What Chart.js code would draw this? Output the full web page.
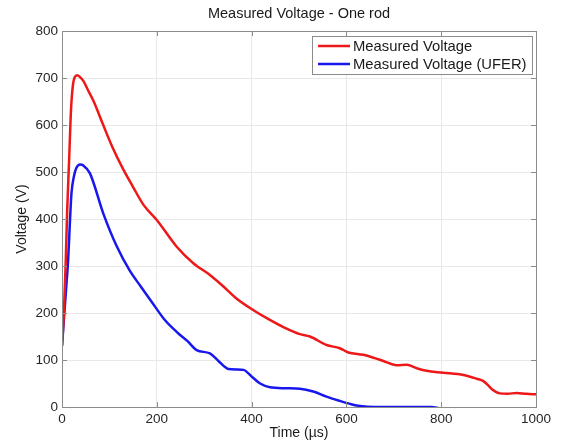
<!DOCTYPE html>
<html>
<head>
<meta charset="utf-8">
<script src="https://cdn.jsdelivr.net/npm/chart.js@4"></script>
<style>
  html, body { margin: 0; padding: 0; background: #fff; }
  #wrap { width: 561px; height: 442px; position: relative; }
</style>
</head>
<body>
<div id="wrap"><canvas id="c" width="561" height="442"></canvas></div>
<script>
// Time samples (µs) and measured voltages (V)
const redTime = [0, 4, 8, 11, 15, 19, 23, 27, 32, 38, 45, 55, 66, 87, 105, 129, 150, 172, 200, 242, 277, 312, 340, 368, 404, 432, 467, 502, 523, 558, 586, 604, 636, 660, 678, 706, 727, 750, 769, 804, 847, 875, 889, 900, 907, 924, 940, 959, 980, 1000];
const redVolt = [130, 200, 313, 420, 525, 632, 685, 702, 706, 702, 694, 674, 652, 600, 556, 506, 468, 430, 398, 341, 306, 281, 257, 231, 206, 189, 170, 155, 150, 132, 125, 116, 111, 104, 98, 89, 90, 82, 77, 73, 68, 60, 55, 45, 38, 29, 28, 30, 28, 27];

const blueTime = [0, 5, 10, 13, 17, 20, 25, 30, 38, 45, 59, 87, 115, 143, 165, 189, 217, 245, 265, 284, 312, 330, 351, 370, 383, 400, 418, 439, 470, 502, 530, 558, 586, 610, 629, 660, 700, 780, 800, 1000];
const blueVolt = [130, 200, 270, 313, 400, 455, 490, 508, 516, 514, 497, 412, 343, 290, 258, 224, 185, 157, 140, 121, 114, 98, 81, 80, 79, 65, 50, 42, 40, 39, 33, 22, 13, 6, 2, 0, 0, 0, -3, -3];

const xTicks = [0, 200, 400, 600, 800, 1000];
const yTicks = [0, 100, 200, 300, 400, 500, 600, 700, 800];

const seriesNames = ['Measured Voltage', 'Measured Voltage (UFER)'];
const seriesColors = ['rgb(238,24,24)', 'rgb(24,24,238)'];

const FONT = '"Liberation Sans", Arial, sans-serif';

function toPoints(xs, ys) { return xs.map((x, i) => ({ x: x, y: ys[i] })); }

// Axes box, inward tick marks, title and boxed legend
const frame = {
  id: 'frame',
  afterDatasetsDraw(chart) {
    const { ctx, chartArea: a, scales } = chart;
    ctx.save();
    ctx.strokeStyle = '#8c8c8c';
    ctx.lineWidth = 1;
    ctx.strokeRect(Math.round(a.left) + 0.5, Math.round(a.top) + 0.5, Math.round(a.right - a.left), Math.round(a.bottom - a.top));
    const tl = 5;
    ctx.beginPath();
    xTicks.forEach(v => {
      const px = Math.round(scales.x.getPixelForValue(v)) + 0.5;
      ctx.moveTo(px, a.bottom); ctx.lineTo(px, a.bottom - tl);
      ctx.moveTo(px, a.top); ctx.lineTo(px, a.top + tl);
    });
    yTicks.forEach(v => {
      const py = Math.round(scales.y.getPixelForValue(v)) + 0.5;
      ctx.moveTo(a.left, py); ctx.lineTo(a.left + tl, py);
      ctx.moveTo(a.right, py); ctx.lineTo(a.right - tl, py);
    });
    ctx.stroke();

    // title
    ctx.fillStyle = '#1a1a1a';
    ctx.font = '14.5px ' + FONT;
    ctx.textAlign = 'center';
    ctx.textBaseline = 'middle';
    ctx.fillText('Measured Voltage - One rod', (a.left + a.right) / 2, 14);

    // legend
    const bx = 312, by = 36, bw = 220, bh = 38;
    ctx.fillStyle = '#fff';
    ctx.fillRect(bx, by, bw, bh);
    ctx.strokeStyle = '#8c8c8c';
    ctx.strokeRect(bx + 0.5, by + 0.5, bw, bh);
    ctx.font = '14.8px ' + FONT;
    ctx.textAlign = 'left';
    chart.data.datasets.forEach((ds, i) => {
      const ly = by + 10 + i * 18;
      ctx.strokeStyle = ds.borderColor;
      ctx.lineWidth = 2.5;
      ctx.beginPath();
      ctx.moveTo(318, ly); ctx.lineTo(350, ly);
      ctx.stroke();
      ctx.fillStyle = '#1a1a1a';
      ctx.fillText(ds.label, 353, ly + 1);
    });
    ctx.restore();
  }
};

new Chart(document.getElementById('c'), {
  type: 'line',
  data: {
    datasets: [
      { label: seriesNames[0], data: toPoints(redTime, redVolt), borderColor: seriesColors[0], borderWidth: 2.5, pointRadius: 0, cubicInterpolationMode: 'monotone', fill: false },
      { label: seriesNames[1], data: toPoints(blueTime, blueVolt), borderColor: seriesColors[1], borderWidth: 2.5, pointRadius: 0, cubicInterpolationMode: 'monotone', fill: false }
    ]
  },
  options: {
    responsive: false,
    animation: false,
    layout: { padding: { top: 31, right: 25, left: 0, bottom: 0 } },
    plugins: { legend: { display: false }, title: { display: false }, tooltip: { enabled: false } },
    scales: {
      x: {
        type: 'linear', min: 0, max: 1000,
        afterBuildTicks(s) { s.ticks = xTicks.map(v => ({ value: v })); },
        afterFit(s) { s.height = 35; },
        grid: { color: '#e8e8e8', drawTicks: false },
        border: { display: false },
        ticks: { padding: 4, color: '#262626', font: { family: FONT, size: 13.5 }, maxRotation: 0, callback: v => String(v) },
        title: { display: true, text: 'Time (µs)', color: '#1a1a1a', font: { family: FONT, size: 14 }, padding: { top: 0, bottom: 0 } }
      },
      y: {
        type: 'linear', min: 0, max: 800,
        afterBuildTicks(s) { s.ticks = yTicks.map(v => ({ value: v })); },
        afterFit(s) { s.width = 62; },
        grid: { color: '#e8e8e8', drawTicks: false },
        border: { display: false },
        ticks: { padding: 4, color: '#262626', font: { family: FONT, size: 13.5 }, callback: v => String(v) },
        title: { display: true, text: 'Voltage (V)', color: '#1a1a1a', font: { family: FONT, size: 14 }, padding: { top: 14, bottom: 0 } }
      }
    }
  },
  plugins: [frame]
});
</script>
</body>
</html>
